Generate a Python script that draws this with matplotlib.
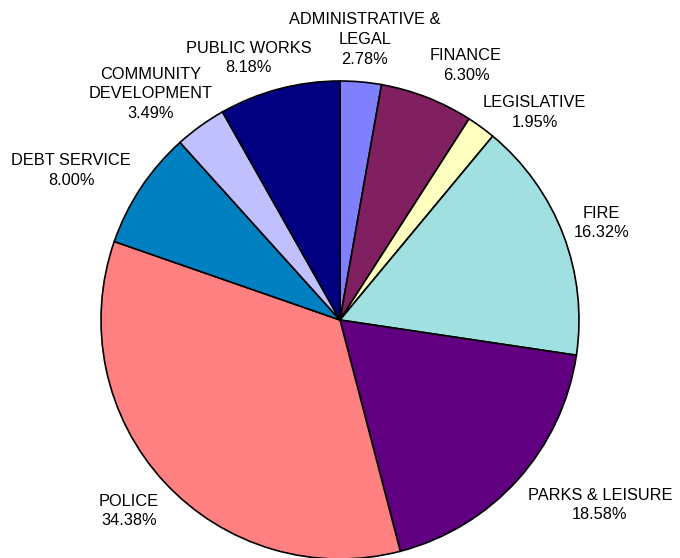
import numpy as np
import matplotlib
matplotlib.use("Agg")
import matplotlib.pyplot as plt

categories = ["ADMINISTRATIVE &\nLEGAL", "FINANCE", "LEGISLATIVE", "FIRE",
              "PARKS & LEISURE", "POLICE", "DEBT SERVICE",
              "COMMUNITY\nDEVELOPMENT", "PUBLIC WORKS"]
values = [2.78, 6.30, 1.95, 16.32, 18.58, 34.38, 8.00, 3.49, 8.18]
pct_labels = ["2.78%", "6.30%", "1.95%", "16.32%", "18.58%", "34.38%",
              "8.00%", "3.49%", "8.18%"]

colors = ["#8080FF", "#802060", "#FFFFC0", "#A0E0E0", "#600080",
          "#FF8080", "#0080C0", "#C0C0FF", "#000080"]

# label layout (styling): angular nudge in degrees, distance from centre in px
label_nudge = [0, -5, -7, -0.6, 6.5, -0.6, 4.5, 4.2, 4.5]
label_dist = [281.6, 284, 284.4, 279, 319, 284.6, 307.5, 295, 277.7]

W, H = 680, 558
fig = plt.figure(figsize=(W / 100, H / 100), dpi=100)
ax = fig.add_axes([0, 0, 1, 1])

R = 239
wedges, _ = ax.pie(values, colors=colors, startangle=90, counterclock=False,
                   radius=R, center=(0, 0), frame=True,
                   wedgeprops=dict(edgecolor="black", linewidth=1.2))
ax.set_xlim(-340, 340)
ax.set_ylim(-238, 320)
ax.set_aspect("auto")
ax.axis("off")

for w, cat, pct, nd, dist in zip(wedges, categories, pct_labels, label_nudge, label_dist):
    mid = np.deg2rad((w.theta1 + w.theta2) / 2 + nd)
    x = dist * np.cos(mid)
    y = dist * np.sin(mid)
    ax.text(x, y, f"{cat}\n{pct}", ha="center", va="center",
            fontsize=11.8, family=["Liberation Sans", "DejaVu Sans"],
            linespacing=1.38, color="black")

fig.savefig("out.png", dpi=100)
